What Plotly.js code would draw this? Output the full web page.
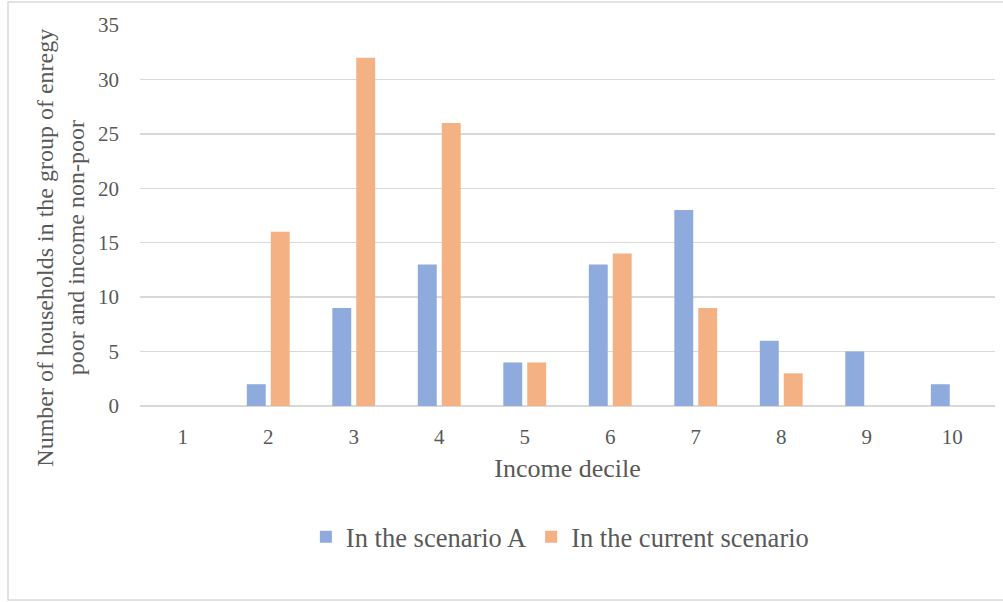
<!DOCTYPE html>
<html>
<head>
<meta charset="utf-8">
<script src="https://cdn.plot.ly/plotly-3.0.1.min.js"></script>
<style>
  html, body { margin: 0; padding: 0; background: #ffffff; }
  #chart { width: 1003px; height: 602px; }
</style>
</head>
<body>
<div id="chart"></div>
<script>
// Income deciles and household counts per scenario
const deciles = ['1', '2', '3', '4', '5', '6', '7', '8', '9', '10'];
const scenarioA = [0, 2, 9, 13, 4, 13, 18, 6, 5, 2];
const currentScenario = [0, 16, 32, 26, 4, 14, 9, 3, 0, 0];
const seriesNames = ['In the scenario A', 'In the current scenario'];
const yTitleLines = ['Number of households in the group of enregy', 'poor and income non-poor'];

const textColor = '#595959';
const gridColor = '#d9d9d9';
const fontFamily = '"Liberation Serif", "Times New Roman", serif';

const traces = [
  {
    type: 'bar', x: deciles, y: scenarioA, name: seriesNames[0],
    marker: { color: '#8faadc' }, hoverinfo: 'x+y+name'
  },
  {
    type: 'bar', x: deciles, y: currentScenario, name: seriesNames[1],
    marker: { color: '#f4b183' }, hoverinfo: 'x+y+name'
  }
];

const layout = {
  width: 1003, height: 602,
  margin: { l: 140, r: 8, t: 25, b: 196 },
  paper_bgcolor: '#ffffff', plot_bgcolor: '#ffffff',
  font: { family: fontFamily, color: textColor, size: 21 },
  barmode: 'group',
  bargap: 0.44,
  bargroupgap: 0.21,
  showlegend: true,
  legend: {
    orientation: 'h', x: 0.194, xanchor: 'left', y: -0.344, yanchor: 'middle',
    font: { size: 26.5, color: textColor }, itemwidth: 30, traceorder: 'normal'
  },
  xaxis: {
    type: 'category',
    showgrid: false, zeroline: false, showline: false, ticks: '',
    ticklabelstandoff: 16,
    tickfont: { size: 21, color: textColor },
    title: { text: 'Income decile', font: { size: 26, color: textColor }, standoff: 10 }
  },
  yaxis: {
    range: [0, 35], dtick: 5, tick0: 0,
    showgrid: true, gridcolor: gridColor, gridwidth: 1.5,
    zeroline: true, zerolinecolor: gridColor, zerolinewidth: 1.5,
    showline: false, ticks: '',
    ticklabelstandoff: 20,
    tickfont: { size: 21, color: textColor }
  },
  annotations: [
    {
      text: yTitleLines.join('<br>'),
      xref: 'paper', yref: 'paper', x: -0.057, y: 0.415,
      xanchor: 'right', yanchor: 'middle', textangle: -90, showarrow: false,
      font: { size: 24, color: textColor }
    }
  ],
  shapes: [
    {
      // outer chart frame; its right side runs past the page edge
      type: 'rect', xref: 'paper', yref: 'paper',
      x0: -132 / 855, x1: 875 / 855, y0: -194 / 381, y1: 404 / 381,
      line: { color: gridColor, width: 1.5 }, fillcolor: 'rgba(0,0,0,0)', layer: 'below'
    }
  ]
};

Plotly.newPlot('chart', traces, layout, { displayModeBar: false, staticPlot: true });
</script>
</body>
</html>
